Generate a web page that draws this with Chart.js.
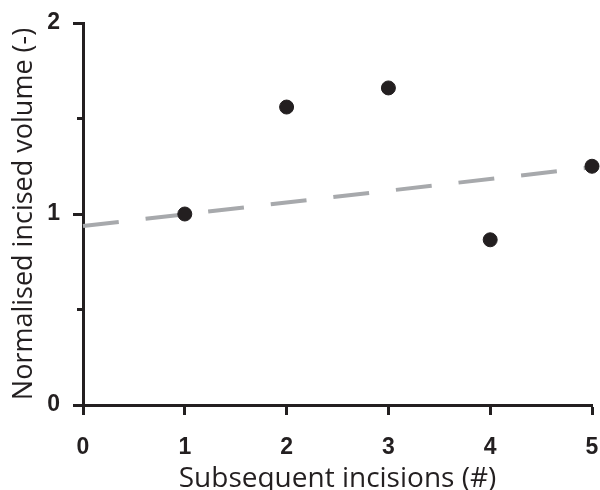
<!DOCTYPE html>
<html lang="en">
<head>
    <meta charset="UTF-8">
    <title>Normalised incised volume</title>
    <script src="https://cdn.jsdelivr.net/npm/chart.js"></script>
    <style>
        body {
            margin: 0;
            background: #fff;
        }
        .chart-container {
            width: 600px;
            height: 490px;
        }
    </style>
</head>
<body>
    <div class="chart-container">
        <canvas id="volChart"></canvas>
    </div>

    <script>
        // data
        const incisions = [1, 2, 3, 4, 5];
        const volumes = [1.00, 1.56, 1.66, 0.865, 1.25];
        const trendX = [0, 5];
        const trendY = [0.937, 1.245];
        const minorTicksY = [0.5, 1.5];

        const ink = '#231f20';
        const tickFont = { family: 'Liberation Sans, Arial, sans-serif', size: 23, weight: 'bold' };

        // short unlabelled ticks at the half values on the y axis
        const minorTicks = {
            id: 'minorTicks',
            afterDraw(chart) {
                const y = chart.scales.y;
                const ctx = chart.ctx;
                ctx.save();
                ctx.strokeStyle = ink;
                ctx.lineWidth = 3;
                minorTicksY.forEach(v => {
                    const py = y.getPixelForValue(v);
                    ctx.beginPath();
                    ctx.moveTo(y.right - 6, py);
                    ctx.lineTo(y.right, py);
                    ctx.stroke();
                });
                ctx.restore();
            }
        };

        const ctx = document.getElementById('volChart').getContext('2d');
        new Chart(ctx, {
            type: 'scatter',
            data: {
                datasets: [
                    {
                        label: 'Volume',
                        data: incisions.map((x, i) => ({ x: x, y: volumes[i] })),
                        backgroundColor: ink,
                        borderColor: ink,
                        pointRadius: 7,
                        pointHoverRadius: 7,
                        clip: false,
                        order: 1
                    },
                    {
                        type: 'line',
                        label: 'Trend',
                        data: trendX.map((x, i) => ({ x: x, y: trendY[i] })),
                        borderColor: '#a7a9ac',
                        borderWidth: 4,
                        borderDash: [36, 27],
                        pointRadius: 0,
                        fill: false,
                        clip: false,
                        order: 2
                    }
                ]
            },
            options: {
                responsive: true,
                maintainAspectRatio: false,
                animation: false,
                layout: {
                    padding: { top: 23, right: 7, left: 0, bottom: 0 }
                },
                plugins: {
                    legend: { display: false },
                    tooltip: { enabled: false }
                },
                scales: {
                    x: {
                        type: 'linear',
                        min: 0,
                        max: 5,
                        afterFit(scale) {
                            scale.height = 85;
                            scale.paddingLeft = 0;
                            scale.paddingRight = 0;
                        },
                        border: { color: ink, width: 3 },
                        grid: {
                            drawOnChartArea: false,
                            drawTicks: true,
                            tickLength: 10,
                            tickColor: ink,
                            tickWidth: 3
                        },
                        ticks: {
                            stepSize: 1,
                            color: ink,
                            font: tickFont,
                            padding: 19
                        },
                        title: {
                            display: true,
                            text: 'Subsequent incisions (#)',
                            color: ink,
                            font: { family: 'Open Sans, sans-serif', size: 28, lineHeight: 0.8 },
                            padding: { top: 0, bottom: 0 }
                        }
                    },
                    y: {
                        type: 'linear',
                        min: 0,
                        max: 2,
                        afterFit(scale) {
                            scale.width = 83;
                            scale.paddingTop = 0;
                            scale.paddingBottom = 0;
                        },
                        border: { color: ink, width: 3 },
                        grid: {
                            drawOnChartArea: false,
                            drawTicks: true,
                            tickLength: 10,
                            tickColor: ink,
                            tickWidth: 3
                        },
                        ticks: {
                            stepSize: 1,
                            color: ink,
                            font: tickFont,
                            padding: 13
                        },
                        title: {
                            display: true,
                            text: 'Normalised incised volume (-)',
                            color: ink,
                            font: { family: 'Open Sans, sans-serif', size: 27 },
                            padding: { top: 8, bottom: 0 }
                        }
                    }
                }
            },
            plugins: [minorTicks]
        });
    </script>
</body>
</html>
